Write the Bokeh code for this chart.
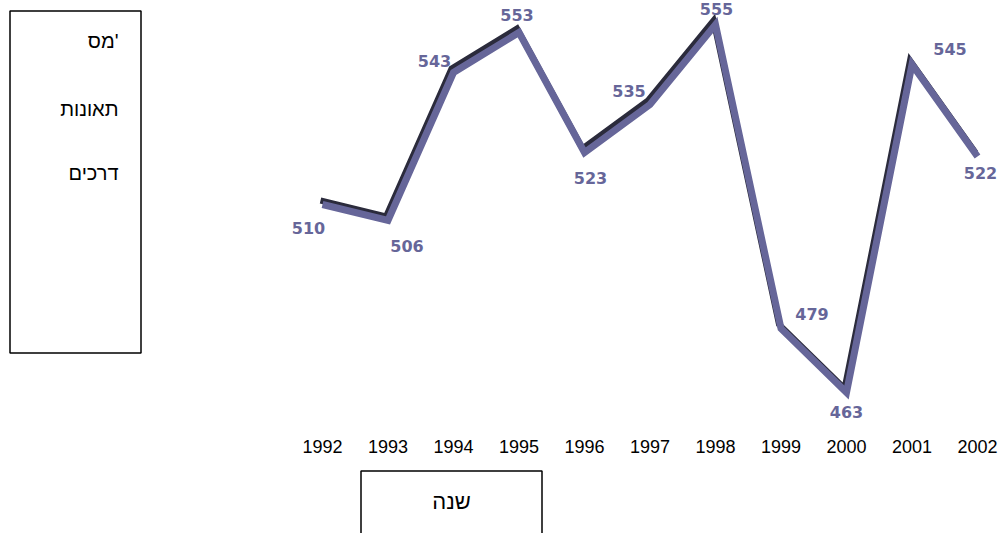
from bokeh.plotting import figure
from bokeh.layouts import column
from bokeh.models import Range1d, ColumnDataSource, Label, BoxAnnotation, FixedTicker
from bokeh.embed import file_html
from bokeh.resources import INLINE
from bokeh.core.properties import value

# ---- data ----
years = [1992, 1993, 1994, 1995, 1996, 1997, 1998, 1999, 2000, 2001, 2002]
accidents = [510, 506, 543, 553, 523, 535, 555, 479, 463, 545, 522]
year_labels = [str(y) for y in years]
value_labels = [str(v) for v in accidents]
y_title_lines = ["מס'", "תאונות", "דרכים"]
x_title = "שנה"

# ---- label placement (screen px, relative to each point) ----
label_dx = [-14, 19, -19, -2, 6, -21, 1, 31, 0, 38, 3]
label_dy = [23, 25, -12, -18, 25, -14, -16, -15, 19, -16, 16]

W = 998
H_TOP = 462
FRAME_H = 433
H_BOT = 71
PX_YEAR = 65.5
PX_UNIT = 4.0
X0_PX = 322.0   # px of the first year
TOP_PX = 24.0   # px of the maximum value

x_start = years[0] - X0_PX / PX_YEAR
x_end = x_start + W / PX_YEAR
y_end = max(accidents) + TOP_PX / PX_UNIT
y_start = y_end - FRAME_H / PX_UNIT

p = figure(width=W, height=H_TOP, output_backend="svg", toolbar_location=None,
           x_range=Range1d(x_start, x_end), y_range=Range1d(y_start, y_end),
           y_axis_location=None, min_border=0, min_border_bottom=H_TOP - FRAME_H,
           outline_line_color=None, background_fill_color="white")
p.xgrid.visible = False
p.ygrid.visible = False

# shadow ranges: shifted 2px left and 4px up
p.extra_x_ranges = {"sx": Range1d(x_start + 2 / PX_YEAR, x_end + 2 / PX_YEAR)}
p.extra_y_ranges = {"sy": Range1d(y_start - 4 / PX_UNIT, y_end - 4 / PX_UNIT)}

src = ColumnDataSource(dict(x=years, y=accidents, t=value_labels, dx=label_dx, dy=label_dy))

p.line("x", "y", source=src, x_range_name="sx", y_range_name="sy",
       line_color="#2b2b3c", line_width=6, line_join="miter")
p.line("x", "y", source=src, line_color="#666699", line_width=7, line_join="miter")

p.text("x", "y", text="t", source=src, x_offset="dx", y_offset="dy",
       text_font=value("DejaVu Sans"), text_font_style="bold", text_font_size="16px",
       text_color="#666699", text_align="center", text_baseline="middle")

ax = p.xaxis[0]
ax.ticker = FixedTicker(ticks=years)
ax.major_label_overrides = {y: s for y, s in zip(years, year_labels)}
ax.axis_line_color = None
ax.major_tick_line_color = None
ax.minor_tick_line_color = None
ax.major_tick_out = 0
ax.major_tick_in = 0
ax.major_label_standoff = 6
ax.major_label_text_font = "Liberation Sans"
ax.major_label_text_font_size = "18px"
ax.major_label_text_color = "black"

# left title box
p.add_layout(BoxAnnotation(left=9.5, right=140.5, top=422.5, bottom=80.5,
                           left_units="screen", right_units="screen",
                           top_units="screen", bottom_units="screen",
                           fill_color=None, fill_alpha=0,
                           line_color="black", line_alpha=1, line_width=1.5))
for line, yy in zip(y_title_lines, [392.5, 325, 260.5]):
    p.add_layout(Label(x=118, y=yy, x_units="screen", y_units="screen", text=line,
                       text_font="Liberation Sans", text_font_size="20px",
                       text_color="black", text_align="right", text_baseline="middle"))

# bottom title box (second strip)
q = figure(width=W, height=H_BOT, output_backend="svg", toolbar_location=None,
           x_range=Range1d(0, 1), y_range=Range1d(0, 1),
           x_axis_location=None, y_axis_location=None, min_border=0,
           outline_line_color=None, background_fill_color="white")
q.xgrid.visible = False
q.ygrid.visible = False
q.add_layout(BoxAnnotation(left=360.5, right=541.5, top=62.5, bottom=-50,
                           left_units="screen", right_units="screen",
                           top_units="screen", bottom_units="screen",
                           fill_color=None, fill_alpha=0,
                           line_color="black", line_alpha=1, line_width=1.5))
q.add_layout(Label(x=451, y=32, x_units="screen", y_units="screen", text=x_title,
                   text_font="Liberation Sans", text_font_size="22px",
                   text_color="black", text_align="center", text_baseline="middle"))

layout = column(p, q, spacing=0)
open("out.html", "w").write(file_html(layout, INLINE))
